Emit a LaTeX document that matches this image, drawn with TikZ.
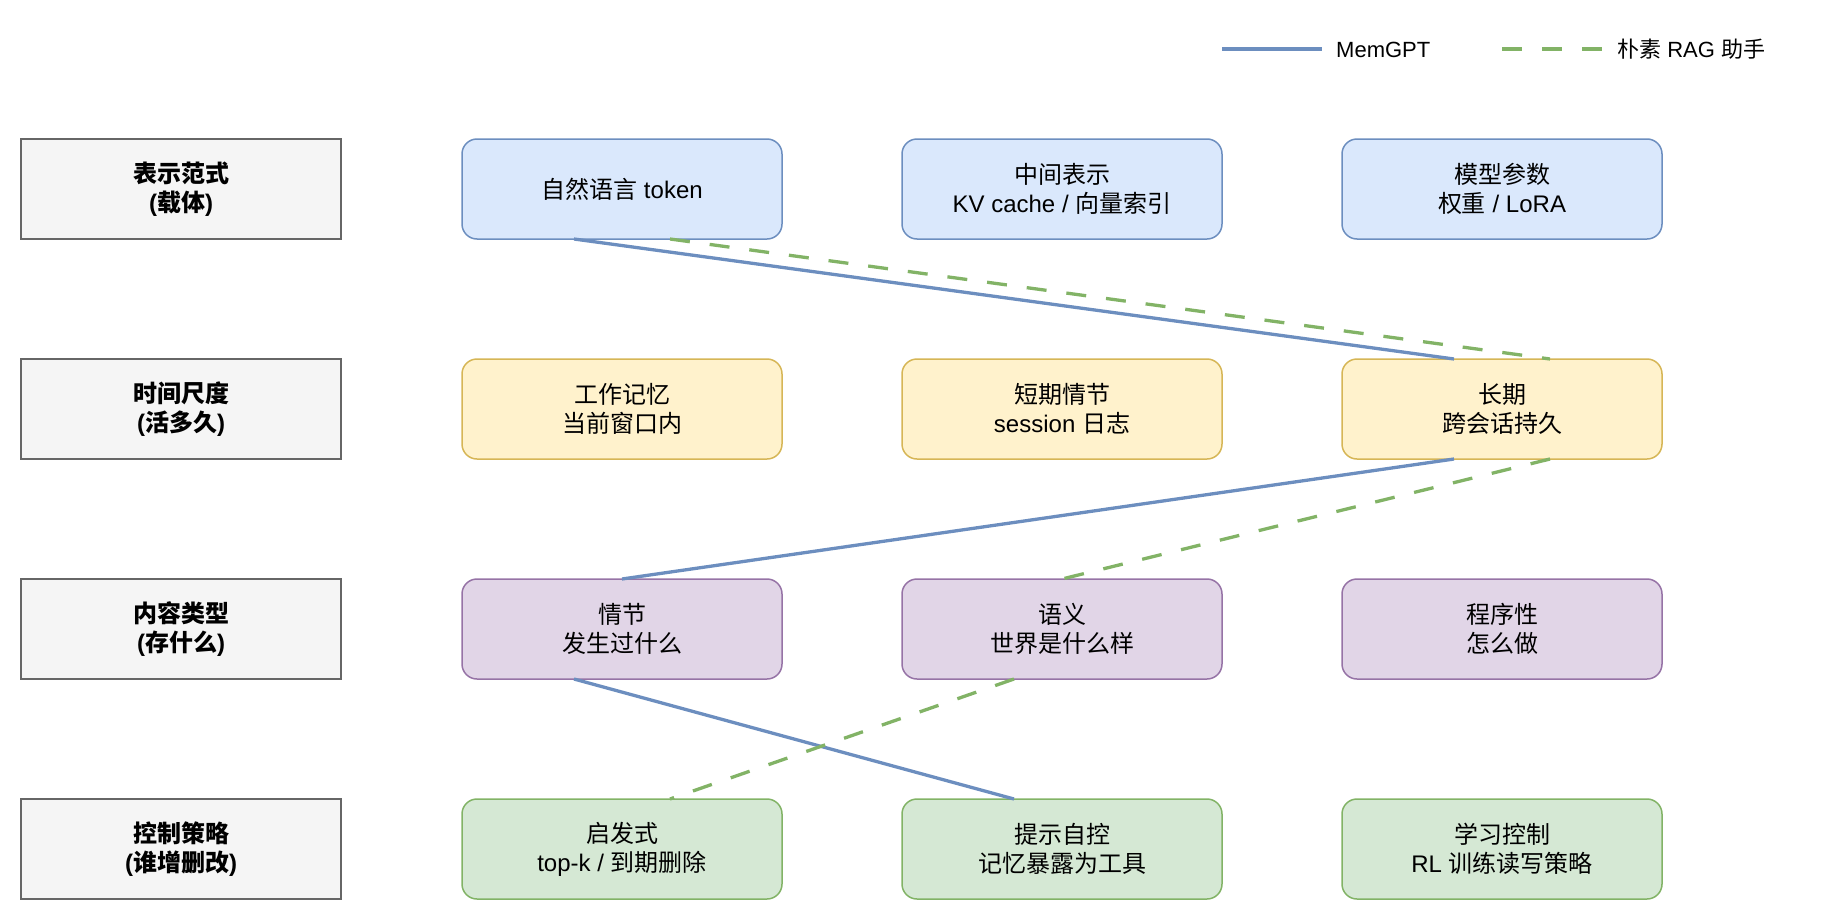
\documentclass[tikz,border=0pt]{standalone}
\usepackage{fontspec}
\setmainfont{Liberation Sans}
\newfontfamily\cjk{Noto Sans CJK SC}
\usetikzlibrary{calc}
\definecolor{bfill}{HTML}{DAE8FC}\definecolor{bline}{HTML}{6C8EBF}
\definecolor{yfill}{HTML}{FFF2CC}\definecolor{yline}{HTML}{D6B656}
\definecolor{pfill}{HTML}{E1D5E7}\definecolor{pline}{HTML}{9673A6}
\definecolor{gfill}{HTML}{D5E8D4}\definecolor{gline}{HTML}{82B366}
\definecolor{lfill}{HTML}{F5F5F5}\definecolor{lline}{HTML}{666666}
\begin{document}
\begin{tikzpicture}[x=1pt,y=-1pt,
  cell/.style={rectangle, rounded corners=15pt, line width=1.5pt, minimum width=320pt, minimum height=100pt,
    anchor=north west, inner sep=0pt, outer sep=0pt, align=center, font=\fontsize{24}{28.8}\selectfont},
  lab/.style={cell, rounded corners=0pt, fill=lfill, draw=lline, font=\fontsize{24}{28.8}\selectfont\bfseries},
  bcell/.style={cell, fill=bfill, draw=bline},
  ycell/.style={cell, fill=yfill, draw=yline},
  pcell/.style={cell, fill=pfill, draw=pline},
  gcell/.style={cell, fill=gfill, draw=gline},
  memline/.style={draw=bline, line width=3.3pt},
  ragline/.style={draw=gline, line width=3.3pt, dash pattern=on 20pt off 20pt},
  legtext/.style={anchor=base west, inner sep=0pt, font=\fontsize{22}{26}\selectfont}
]
\useasboundingbox (0,0) rectangle (1844,913);

% row labels
\node[lab] (l1) at (21,139) {{\cjk 表示范式}\\({\cjk 载体})};
\node[lab] (l2) at (21,359) {{\cjk 时间尺度}\\({\cjk 活多久})};
\node[lab] (l3) at (21,579) {{\cjk 内容类型}\\({\cjk 存什么})};
\node[lab] (l4) at (21,799) {{\cjk 控制策略}\\({\cjk 谁增删改})};

% row 1
\node[bcell] (a1) at (462,139) {{\cjk 自然语言} token};
\node[bcell] (a2) at (902,139) {{\cjk 中间表示}\\KV cache / {\cjk 向量索引}};
\node[bcell] (a3) at (1342,139) {{\cjk 模型参数}\\{\cjk 权重} / LoRA};
% row 2
\node[ycell] (b1) at (462,359) {{\cjk 工作记忆}\\{\cjk 当前窗口内}};
\node[ycell] (b2) at (902,359) {{\cjk 短期情节}\\session {\cjk 日志}};
\node[ycell] (b3) at (1342,359) {{\cjk 长期}\\{\cjk 跨会话持久}};
% row 3
\node[pcell] (c1) at (462,579) {{\cjk 情节}\\{\cjk 发生过什么}};
\node[pcell] (c2) at (902,579) {{\cjk 语义}\\{\cjk 世界是什么样}};
\node[pcell] (c3) at (1342,579) {{\cjk 程序性}\\{\cjk 怎么做}};
% row 4
\node[gcell] (d1) at (462,799) {{\cjk 启发式}\\top-k / {\cjk 到期删除}};
\node[gcell] (d2) at (902,799) {{\cjk 提示自控}\\{\cjk 记忆暴露为工具}};
\node[gcell] (d3) at (1342,799) {{\cjk 学习控制}\\RL {\cjk 训练读写策略}};

% MemGPT path
\draw[memline] ([xshift=-48pt]a1.south) -- ([xshift=-48pt]b3.north);
\draw[memline] ([xshift=-48pt]b3.south) -- (c1.north);
\draw[memline] ([xshift=-48pt]c1.south) -- ([xshift=-48pt]d2.north);
% naive RAG path
\draw[ragline] ([xshift=48pt]a1.south) -- ([xshift=48pt]b3.north);
\draw[ragline] ([xshift=48pt]b3.south) -- (c2.north);
\draw[ragline] ([xshift=-48pt]c2.south) -- ([xshift=48pt]d1.north);

% legend
\coordinate (m1) at (1222,49);
\coordinate (m2) at (1322,49);
\draw[memline] (m1) -- (m2);
\node[legtext] (mt) at (1336,57) {MemGPT};
\coordinate (r1) at (1502,49);
\coordinate (r2) at (1602,49);
\draw[ragline] (r1) -- (r2);
\node[legtext] (rt) at (1617,57) {{\cjk 朴素} RAG {\cjk 助手}};
\end{tikzpicture}
\end{document}
